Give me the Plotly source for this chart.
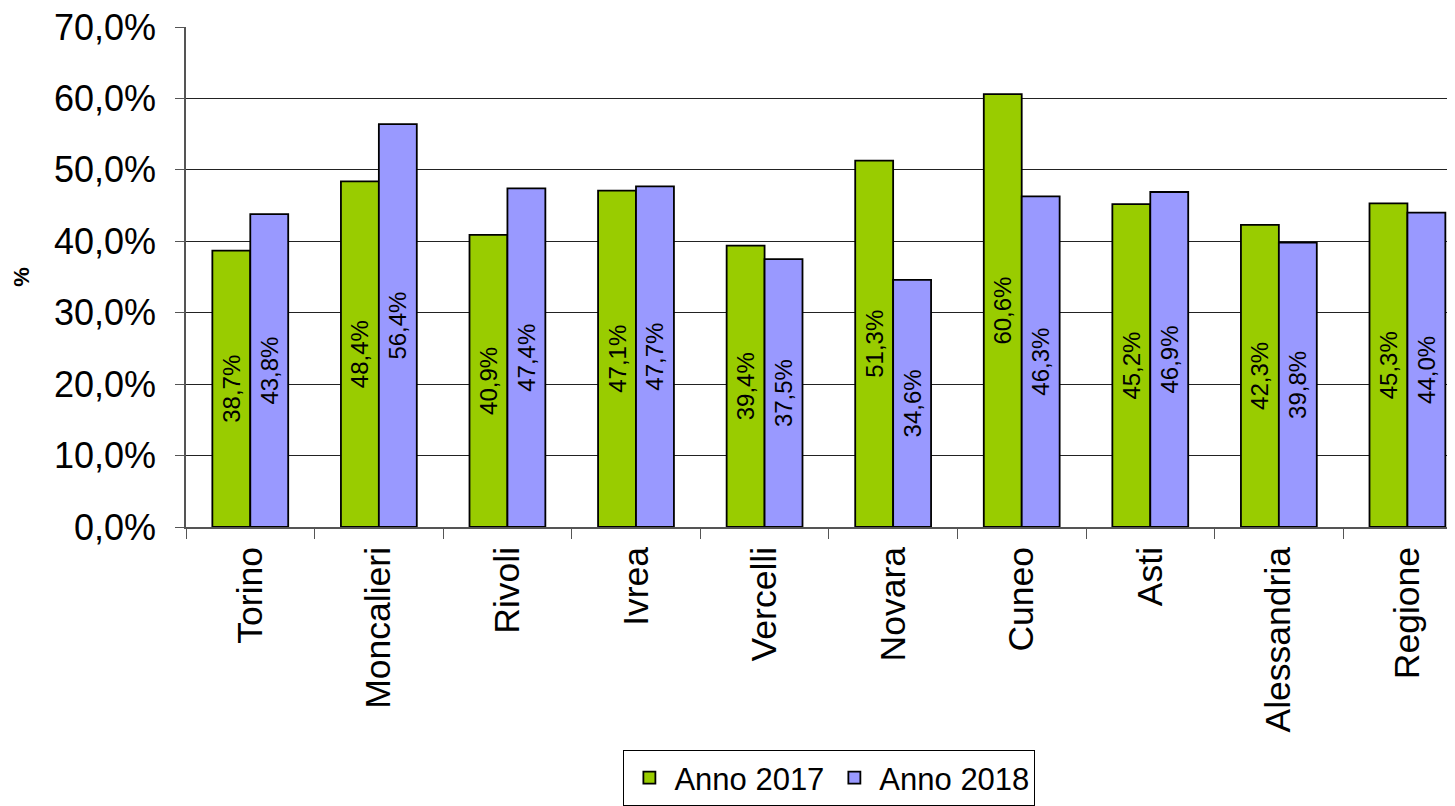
import plotly.graph_objects as go

categories = ["Torino", "Moncalieri", "Rivoli", "Ivrea", "Vercelli", "Novara",
              "Cuneo", "Asti", "Alessandria", "Regione"]
anno_2017 = [38.7, 48.4, 40.9, 47.1, 39.4, 51.3, 60.6, 45.2, 42.3, 45.3]
anno_2018 = [43.8, 56.4, 47.4, 47.7, 37.5, 34.6, 46.3, 46.9, 39.8, 44.0]
y_ticks = [0, 10, 20, 30, 40, 50, 60, 70]
y_ticktext = ["0,0%", "10,0%", "20,0%", "30,0%", "40,0%", "50,0%", "60,0%", "70,0%"]


def fmt(v):
    return f"{v:.1f}%".replace(".", ",")


fig = go.Figure()
for name, vals, color in [("Anno 2017", anno_2017, "#99CC00"),
                          ("Anno 2018", anno_2018, "#9999FF")]:
    fig.add_trace(go.Bar(
        name=name, x=categories, y=vals,
        marker=dict(color=color, line=dict(color="black", width=1.8)),
        text=[fmt(v) for v in vals],
        textposition="inside", insidetextanchor="middle", textangle=-90,
        textfont=dict(family="Liberation Sans, Arial", size=24, color="black"),
        constraintext="none",
    ))

# page body has an 8px margin: figure is sized/offset to compensate
fig.update_layout(
    width=1447, height=798,
    margin=dict(l=178, r=0, t=19, b=279, autoexpand=False),
    paper_bgcolor="white", plot_bgcolor="white",
    barmode="group", bargap=0.41, bargroupgap=0,
    font=dict(family="Liberation Sans, Arial", color="black"),
    showlegend=True,
    legend=dict(orientation="h", x=0.507, xanchor="center",
                yref="container", y=-0.008, yanchor="bottom",
                bordercolor="black", borderwidth=1, font=dict(size=31),
                itemwidth=40, traceorder="normal"),
    xaxis=dict(range=[-0.5, 9.37], showgrid=False, showline=True, linecolor="#555555",
               linewidth=1.5, ticks="outside", tickson="boundaries", ticklen=10,
               tickcolor="#555555", tickangle=-90, tickfont=dict(size=35.5),
               automargin=False, ticklabelstandoff=4, ticklabeloverflow="allow"),
    yaxis=dict(range=[0, 70], tickvals=y_ticks, ticktext=y_ticktext,
               showgrid=True, gridcolor="#222222", gridwidth=1,
               showline=True, linecolor="#555555", linewidth=1.5,
               ticks="outside", ticklen=9, tickcolor="#555555",
               tickfont=dict(size=36), zeroline=False, automargin=False,
               ticklabelstandoff=12, ticklabeloverflow="allow",
               title=dict(text="<b>%</b>", font=dict(size=22), standoff=18)),
)

fig.write_html("out.html")
